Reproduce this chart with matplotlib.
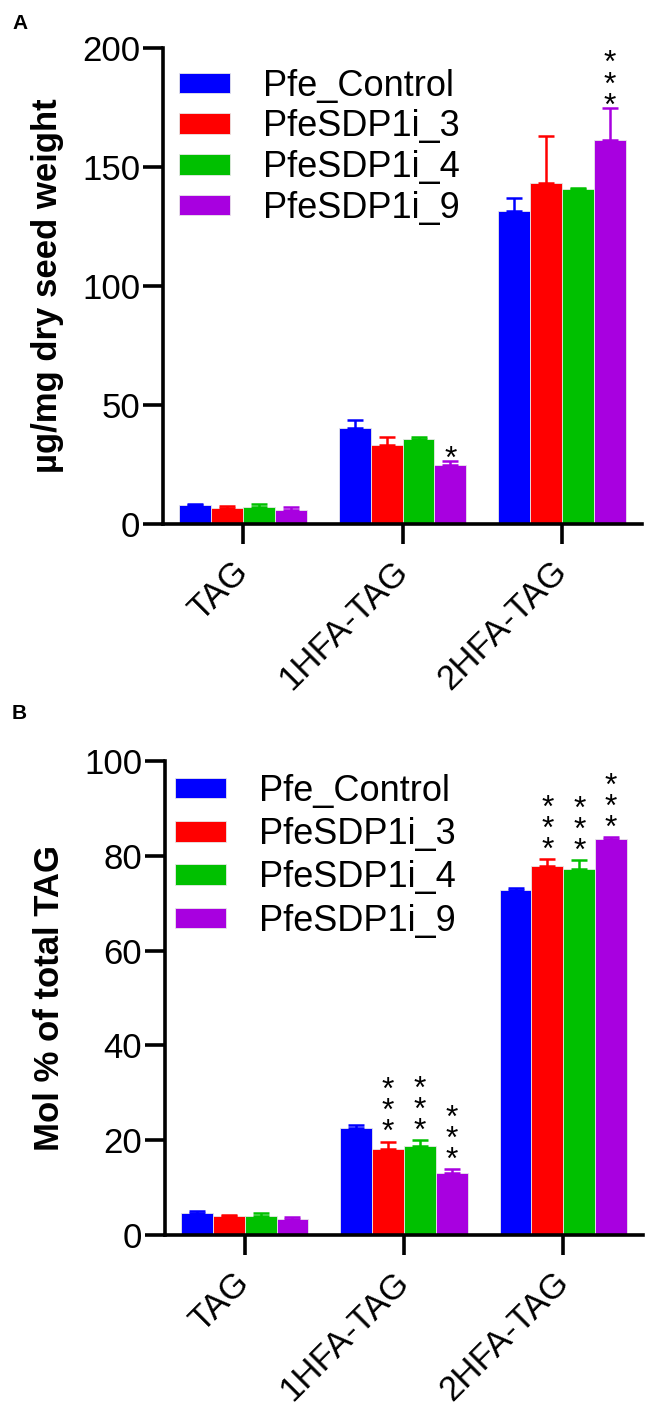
import matplotlib

matplotlib.use("Agg")
import matplotlib.pyplot as plt
import numpy as np

plt.rcParams["font.family"] = ["Liberation Sans", "DejaVu Sans"]

groups = ["TAG", "1HFA-TAG", "2HFA-TAG"]
lines = ["Pfe_Control", "PfeSDP1i_3", "PfeSDP1i_4", "PfeSDP1i_9"]
colors = ["#0000FF", "#FF0000", "#00C000", "#A800E0"]

# panel A: ug/mg dry seed weight
mass_mean = [
    [7.9, 40.5, 131.6],
    [6.7, 33.1, 143.2],
    [7.1, 35.6, 140.6],
    [6.0, 24.8, 161.3],
]
mass_err = [
    [0.6, 3.1, 5.3],
    [1.0, 3.5, 19.8],
    [1.3, 1.1, 0.5],
    [1.3, 1.8, 13.7],
]
mass_stars = [
    [0, 0, 0],
    [0, 0, 0],
    [0, 0, 0],
    [0, 1, 3],
]

# panel B: mol % of total TAG
mol_mean = [
    [4.6, 22.5, 72.8],
    [3.9, 18.1, 77.8],
    [3.9, 18.7, 77.2],
    [3.3, 13.1, 83.5],
]
mol_err = [
    [0.4, 0.7, 0.5],
    [0.3, 1.6, 1.5],
    [0.7, 1.3, 1.9],
    [0.4, 0.8, 0.4],
]
mol_stars = [
    [0, 0, 0],
    [0, 3, 3],
    [0, 3, 3],
    [0, 3, 3],
]

mass_ticks = [0, 50, 100, 150, 200]
mol_ticks = [0, 20, 40, 60, 80, 100]

PX = 0.72  # points per pixel at dpi 100


def draw_panel(ax, means, errs, stars, yticks, ylabel, star_gap, leg_anchor, leg_spacing):
    x = np.arange(len(groups))
    w = 0.2
    for i, name in enumerate(lines):
        pos = x + (i - 1.5) * w
        m = np.asarray(means[i])
        e = np.asarray(errs[i])
        ax.bar(pos, m, w, color=colors[i], edgecolor="#e8e8e8", linewidth=0.6,
               label=name, zorder=2)
        ax.errorbar(pos, m, yerr=[np.zeros_like(e), e], fmt="none", ecolor=colors[i],
                    elinewidth=1.8, capsize=6, capthick=1.8, zorder=3)
        for j, n in enumerate(stars[i]):
            if n == 0:
                continue
            # stacked asterisks as one text, bottom of box sits just above the error cap
            off = (star_gap - 18 - 6.8) * PX
            ax.annotate("\n".join(["*"] * n), xy=(pos[j], m[j] + e[j]), xytext=(0, off),
                        textcoords="offset points", ha="center", va="bottom",
                        fontsize=23, linespacing=0.61, annotation_clip=False)

    ax.set_xlim(-0.5, 2.5)
    ax.set_ylim(yticks[0], yticks[-1])
    ax.set_yticks(yticks)
    ax.set_xticks(x)
    ax.set_xticklabels(groups, rotation=45, ha="right", va="center",
                       rotation_mode="anchor")
    for s in ["top", "right"]:
        ax.spines[s].set_visible(False)
    for s in ["left", "bottom"]:
        ax.spines[s].set_linewidth(2.6)
    ax.tick_params(axis="both", width=2.6, length=14.5, labelsize=25)
    ax.tick_params(axis="x", pad=16)
    ax.tick_params(axis="y", pad=2)
    ax.set_ylabel(ylabel, fontsize=25, fontweight="bold")
    ax.yaxis.set_label_coords(-0.207, 0.5)
    ax.legend(loc="upper left", bbox_to_anchor=leg_anchor, frameon=False, fontsize=26,
              handlelength=1.42, handleheight=0.5, handletextpad=0.9,
              labelspacing=leg_spacing, borderaxespad=0, borderpad=0)


fig = plt.figure(figsize=(6.5, 14.08), dpi=100)
ax_a = fig.add_axes([0.2508, 0.6278, 0.737, 0.338])
ax_b = fig.add_axes([0.2538, 0.1229, 0.7354, 0.3366])

draw_panel(ax_a, mass_mean, mass_err, mass_stars, mass_ticks,
           "\u00b5g/mg dry seed weight", 11, (0.033, 0.957), 0.16)
draw_panel(ax_b, mol_mean, mol_err, mol_stars, mol_ticks,
           "Mol % of total TAG", 18, (0.021, 0.973), 0.23)

fig.text(12 / 650, 1 - 14 / 1408, "A", fontsize=15, fontweight="bold", ha="left", va="top")
fig.text(12 / 650, 1 - 704 / 1408, "B", fontsize=15, fontweight="bold", ha="left", va="top")

fig.savefig("out.png", dpi=100)
